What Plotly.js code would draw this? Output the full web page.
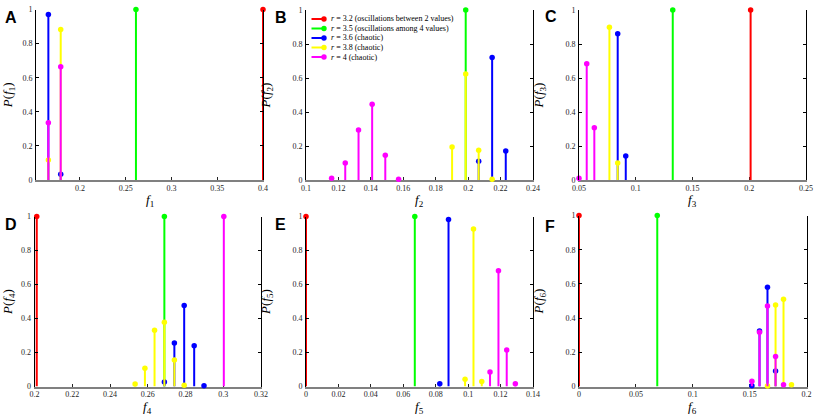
<!DOCTYPE html>
<html>
<head>
<meta charset="utf-8">
<script src="https://cdn.plot.ly/plotly-3.0.1.min.js"></script>
<style>
  html, body { margin: 0; padding: 0; background: #fff; }
  #chart { width: 817px; height: 415px; }
</style>
</head>
<body>
<div id="chart"></div>
<script>
// one entry per panel A..F : positions f and probabilities P(f)
const seriesLabels = [
  '<i>r</i> = 3.2 (oscillations between 2 values)',
  '<i>r</i> = 3.5 (oscillations among 4 values)',
  '<i>r</i> = 3.6 (chaotic)',
  '<i>r</i> = 3.8 (chaotic)',
  '<i>r</i> = 4 (chaotic)'
];

const r32_f = [[0.4], [], [0.2012], [0.2012], [0], [0]];
const r32_p = [[1], [], [1], [1], [1], [1]];

const r35_f = [[0.2612], [0.1985], [0.1326], [0.2688], [0.0671], [0.0688]];
const r35_p = [[1], [1], [1], [1], [1], [1]];

const r36_f = [
  [0.1655, 0.179],
  [0.2065, 0.2148, 0.2232],
  [0.0841, 0.0912],
  [0.2688, 0.2741, 0.2793, 0.2846, 0.2898],
  [0.0825, 0.0879],
  [0.152, 0.1587, 0.1657, 0.1728]
];
const r36_p = [
  [0.971, 0.033],
  [0.11, 0.72, 0.17],
  [0.861, 0.141],
  [0.026, 0.256, 0.476, 0.24, 0.005],
  [0.016, 0.982],
  [0.005, 0.325, 0.58, 0.091]
];

const r38_f = [
  [0.1655, 0.179],
  [0.1901, 0.1985, 0.2065, 0.2148],
  [0.0768, 0.0841],
  [0.2533, 0.2585, 0.2636, 0.2688, 0.2741, 0.2793],
  [0.0981, 0.1033, 0.1084],
  [0.1657, 0.1728, 0.1798, 0.1868]
];
const r38_p = [
  [0.117, 0.883],
  [0.194, 0.624, 0.175, 0.005],
  [0.898, 0.10],
  [0.014, 0.108, 0.331, 0.378, 0.156, 0.008],
  [0.043, 0.927, 0.03],
  [0.003, 0.477, 0.51, 0.01]
];

const r4_f = [
  [0.1655, 0.179],
  [0.1158, 0.1242, 0.1324, 0.1408, 0.1489, 0.1571],
  [0.05, 0.0568, 0.0635],
  [0.3003],
  [0.1135, 0.1187, 0.1238, 0.1291],
  [0.152, 0.1587, 0.1657, 0.1728, 0.1798]
];
const r4_p = [
  [0.336, 0.664],
  [0.01, 0.10, 0.294, 0.445, 0.145, 0.005],
  [0.01, 0.684, 0.308],
  [1],
  [0.085, 0.681, 0.215, 0.016],
  [0.03, 0.317, 0.471, 0.175, 0.01]
];

const panelLetters = ['A', 'B', 'C', 'D', 'E', 'F'];
const xRanges = [[0.152, 0.4], [0.1, 0.24], [0.05, 0.25], [0.2, 0.32], [0, 0.14], [0, 0.2]];
const xSteps = [0.05, 0.02, 0.05, 0.02, 0.02, 0.05];

const allF = [r32_f, r35_f, r36_f, r38_f, r4_f];
const allP = [r32_p, r35_p, r36_p, r38_p, r4_p];
const colors = ['#ff0000', '#00ff00', '#0000ff', '#ffff00', '#ff00ff'];

// pixel boxes of the six panels
const W = 817, H = 415;
const px = v => v / W;
const py = v => 1 - v / H;
const boxes = [
  {x0: 36, x1: 263, y0: 9.5, y1: 180},
  {x0: 306, x1: 533, y0: 10, y1: 180},
  {x0: 579, x1: 806, y0: 10, y1: 180},
  {x0: 34.5, x1: 261, y0: 216.5, y1: 386.5},
  {x0: 306, x1: 533, y0: 216.5, y1: 386.5},
  {x0: 579, x1: 806.5, y0: 215.5, y1: 386.5}
];
const letterPos = [[3, 17], [273, 17], [543, 16.5], [3, 224], [273, 224], [543, 226]];
const xTitleY = [200.5, 200.5, 200.5, 407, 407, 407];

const serif = 'Liberation Serif, Times New Roman, DejaVu Serif, serif';
const titleFont = {family: serif, size: 13, color: '#000'};

const layout = {
  width: W,
  height: H,
  margin: {l: 0, r: 0, t: 0, b: 0, pad: 0},
  showlegend: false,
  paper_bgcolor: '#fff',
  plot_bgcolor: '#fff',
  font: {family: serif, size: 8, color: '#262626'},
  shapes: [],
  annotations: []
};

const data = [];

for (let i = 0; i < 6; i++) {
  const n = i + 1;
  const sfx = n === 1 ? '' : String(n);
  const b = boxes[i];
  layout['xaxis' + sfx] = {
    domain: [px(b.x0), px(b.x1)],
    range: xRanges[i],
    tick0: 0,
    dtick: xSteps[i],
    anchor: 'y' + sfx,
    showline: true,
    linecolor: '#808080',
    linewidth: 2,
    ticks: 'inside',
    ticklen: 3,
    tickcolor: '#262626',
    ticklabelstandoff: -1,
    showgrid: false,
    zeroline: false,
    layer: 'below traces',
    automargin: false
  };
  // top border with its ticks
  layout['xaxis' + (n + 6)] = {
    overlaying: 'x' + sfx,
    anchor: 'y' + sfx,
    side: 'top',
    range: xRanges[i],
    tick0: 0,
    dtick: xSteps[i],
    showline: true,
    linecolor: '#000',
    linewidth: 1,
    ticks: 'inside',
    ticklen: 3,
    tickcolor: '#000',
    showticklabels: false,
    showgrid: false,
    zeroline: false,
    automargin: false
  };
  layout['yaxis' + sfx] = {
    domain: [py(b.y1), py(b.y0)],
    range: [0, 1],
    tick0: 0,
    dtick: 0.2,
    anchor: 'x' + sfx,
    showline: true,
    mirror: 'ticks',
    linecolor: '#000',
    linewidth: 1,
    ticks: 'inside',
    ticklen: 3,
    tickcolor: '#000',
    ticklabelstandoff: 1,
    showgrid: false,
    zeroline: false,
    automargin: false,
    title: {text: '<i>P</i>(<i>f</i><sub>' + n + '</sub>)', font: titleFont}
  };

  // x axis title under the panel
  layout.annotations.push({
    text: '<i>f</i><sub>' + n + '</sub>',
    xref: 'paper', yref: 'paper',
    x: px((b.x0 + b.x1) / 2), y: py(xTitleY[i]),
    xanchor: 'center', yanchor: 'middle',
    showarrow: false,
    borderpad: 0,
    font: titleFont
  });

  layout.annotations.push({
    text: '<b>' + panelLetters[i] + '</b>',
    xref: 'paper', yref: 'paper',
    x: px(letterPos[i][0]), y: py(letterPos[i][1]),
    xanchor: 'left', yanchor: 'middle',
    showarrow: false,
    font: {family: 'Liberation Sans', size: 16, color: '#000'}
  });

  for (let s = 0; s < 5; s++) {
    const f = allF[s][i];
    const p = allP[s][i];
    if (!f.length) continue;
    data.push({
      type: 'scatter',
      mode: 'markers',
      x: f,
      y: p,
      xaxis: 'x' + sfx,
      yaxis: 'y' + sfx,
      cliponaxis: false,
      hoverinfo: 'skip',
      marker: {color: colors[s], size: 5.5},
      error_y: {
        type: 'data',
        symmetric: false,
        array: p.map(() => 0),
        arrayminus: p,
        width: 0,
        thickness: 2,
        color: colors[s]
      }
    });
  }
}

// legend drawn inside panel B
for (let s = 0; s < 5; s++) {
  const yy = 19 + s * 9.5;
  layout.shapes.push({
    type: 'line', xref: 'paper', yref: 'paper',
    x0: px(311.5), x1: px(324), y0: py(yy), y1: py(yy),
    line: {color: colors[s], width: 2}
  });
  layout.shapes.push({
    type: 'circle', xref: 'paper', yref: 'paper',
    x0: px(321.3), x1: px(326.7), y0: py(yy + 2.7), y1: py(yy - 2.7),
    fillcolor: colors[s], line: {color: colors[s], width: 0}
  });
  layout.annotations.push({
    text: seriesLabels[s],
    xref: 'paper', yref: 'paper',
    x: px(329), y: py(yy),
    xanchor: 'left', yanchor: 'middle',
    showarrow: false,
    font: {family: serif, size: 8, color: '#000'}
  });
}

Plotly.newPlot('chart', data, layout, {staticPlot: true});
</script>
</body>
</html>
